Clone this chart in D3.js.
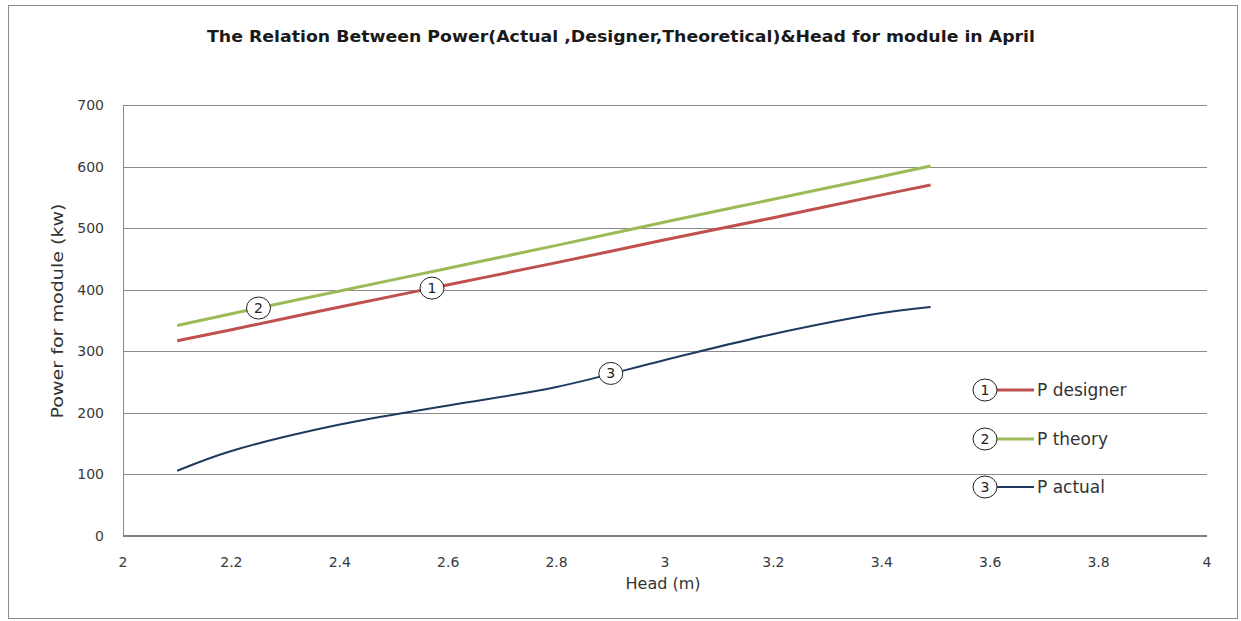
<!DOCTYPE html>
<html>
<head>
<meta charset="utf-8">
<script src="https://cdn.jsdelivr.net/npm/d3@7"></script>
<style>
  body { margin: 0; background: #fff; }
  text { font-family: "DejaVu Sans", "Open Sans", sans-serif; }
</style>
</head>
<body>
<svg id="chart" width="1241" height="621"></svg>
<script>
// Head values (m) where each series was read
var heads = [2.1, 2.2, 2.4, 2.6, 2.8, 3.0, 3.2, 3.4, 3.49];
// Power for module (kw)
var pDesigner = [317, 335, 372, 408, 444, 481, 517, 554, 570];
var pTheory   = [342, 361, 398, 435, 472, 510, 547, 584, 601];
var pActual   = [106, 138, 181, 212, 242, 286, 328, 362, 372];

var xTicks = [2, 2.2, 2.4, 2.6, 2.8, 3, 3.2, 3.4, 3.6, 3.8, 4];
var yTicks = [0, 100, 200, 300, 400, 500, 600, 700];

var seriesNames = ['P designer', 'P theory', 'P actual'];
var seriesTags = ['1', '2', '3'];
// where the circled numbers sit on each line (head value)
var tagHeads = [2.57, 2.25, 2.9];

var colors = ['#c0504d', '#9bbb59', '#1f3a5f'];
var widths = [3, 3, 2];

var svg = d3.select('#chart');

// Outer chart border
svg.append('rect')
    .attr('x', 8.5).attr('y', 5.5)
    .attr('width', 1229).attr('height', 613)
    .attr('fill', 'none')
    .attr('stroke', '#8c8c8c')
    .attr('stroke-width', 1);

var x = d3.scaleLinear().domain([2, 4]).range([123, 1207]);
var y = d3.scaleLinear().domain([0, 700]).range([536, 105]);

// Horizontal grid
svg.append('g')
    .selectAll('line')
    .data(yTicks.filter(function(d){ return d > 0; }))
    .enter().append('line')
    .attr('x1', x(2)).attr('x2', x(4))
    .attr('y1', function(d){ return Math.round(y(d)) + 0.5; })
    .attr('y2', function(d){ return Math.round(y(d)) + 0.5; })
    .attr('stroke', '#8a8a8a')
    .attr('stroke-width', 1);

// Left axis line
svg.append('line')
    .attr('x1', x(2) + 0.5).attr('x2', x(2) + 0.5)
    .attr('y1', y(700)).attr('y2', y(0))
    .attr('stroke', '#8a8a8a');

// Bottom axis line
svg.append('line')
    .attr('x1', x(2)).attr('x2', x(4))
    .attr('y1', y(0)).attr('y2', y(0))
    .attr('stroke', '#808080')
    .attr('stroke-width', 2);

// Y tick labels
svg.append('g')
    .selectAll('text')
    .data(yTicks)
    .enter().append('text')
    .attr('x', 104)
    .attr('y', function(d){ return y(d); })
    .attr('dy', '0.36em')
    .attr('text-anchor', 'end')
    .attr('font-size', 14)
    .attr('fill', '#3a3a3a')
    .text(function(d){ return d; });

// X tick labels
svg.append('g')
    .selectAll('text')
    .data(xTicks)
    .enter().append('text')
    .attr('x', function(d){ return x(d); })
    .attr('y', 567)
    .attr('text-anchor', 'middle')
    .attr('font-size', 14)
    .attr('fill', '#3a3a3a')
    .text(function(d){ return d; });

// Title
svg.append('text')
    .attr('x', 621).attr('y', 42)
    .attr('text-anchor', 'middle')
    .attr('font-size', 15)
    .attr('font-weight', 'bold')
    .attr('fill', '#1a1a1a')
    .attr('textLength', 828)
    .attr('lengthAdjust', 'spacingAndGlyphs')
    .text('The Relation  Between Power(Actual ,Designer,Theoretical)&Head  for module in April');

// Axis titles
svg.append('text')
    .attr('transform', 'translate(63,311) rotate(-90)')
    .attr('text-anchor', 'middle')
    .attr('font-size', 16)
    .attr('fill', '#333')
    .attr('textLength', 215)
    .attr('lengthAdjust', 'spacingAndGlyphs')
    .text('Power for module (kw)');

svg.append('text')
    .attr('x', 663).attr('y', 589)
    .attr('text-anchor', 'middle')
    .attr('font-size', 16)
    .attr('fill', '#333')
    .text('Head (m)');

// Lines
var allSeries = [pDesigner, pTheory, pActual];
var line = d3.line()
    .x(function(d, i){ return x(heads[i]); })
    .y(function(d){ return y(d); })
    .curve(d3.curveCatmullRom.alpha(0.5));

[1, 0, 2].forEach(function(k){
    svg.append('path')
        .datum(allSeries[k])
        .attr('fill', 'none')
        .attr('stroke', colors[k])
        .attr('stroke-width', widths[k])
        .attr('stroke-linejoin', 'round')
        .attr('d', line);
});

// Circled number helper
function tag(cx, cy, label){
    var g = svg.append('g').attr('transform', 'translate(' + cx + ',' + cy + ')');
    g.append('ellipse')
        .attr('rx', 12).attr('ry', 11)
        .attr('fill', '#fff')
        .attr('stroke', '#222')
        .attr('stroke-width', 1);
    g.append('text')
        .attr('dy', '0.36em')
        .attr('text-anchor', 'middle')
        .attr('font-size', 14)
        .attr('fill', '#222')
        .text(label);
}

// Tags on the lines
tagHeads.forEach(function(h, k){
    var v = d3.scaleLinear().domain(heads).range(allSeries[k]);
    tag(x(h), y(v(h)), seriesTags[k]);
});

// Legend
var legendY = [390, 439, 487];
seriesNames.forEach(function(name, k){
    var ly = legendY[k];
    svg.append('line')
        .attr('x1', 997).attr('x2', 1034)
        .attr('y1', ly).attr('y2', ly)
        .attr('stroke', colors[k])
        .attr('stroke-width', widths[k]);
    tag(985, ly, seriesTags[k]);
    svg.append('text')
        .attr('x', 1037).attr('y', ly)
        .attr('dy', '0.36em')
        .attr('font-size', 17)
        .attr('fill', '#333')
        .text(name);
});
</script>
</body>
</html>
